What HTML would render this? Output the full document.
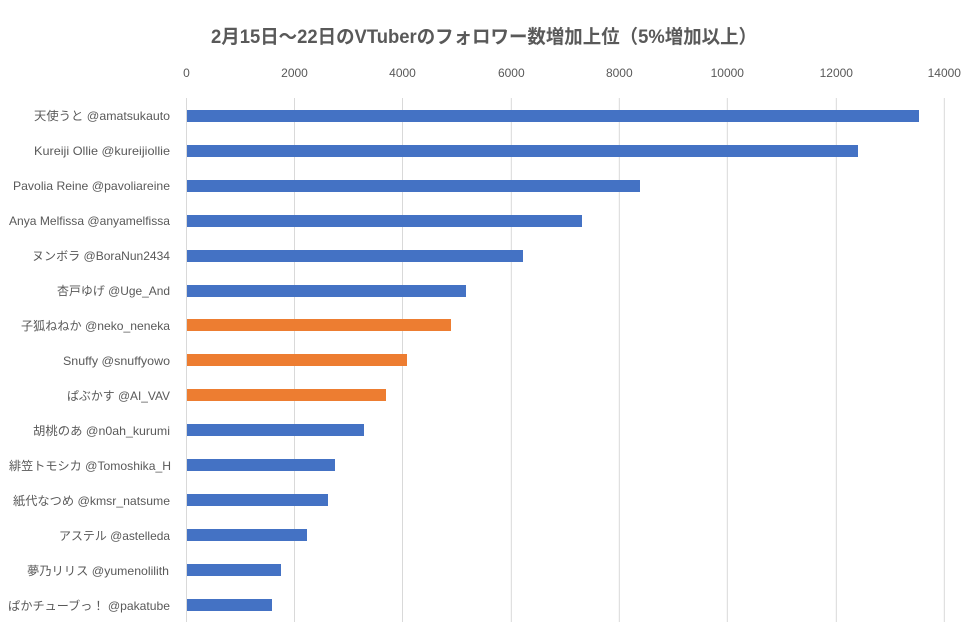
<!DOCTYPE html>
<html><head><meta charset="utf-8"><style>
html,body{margin:0;padding:0;background:#fff;}
svg{display:block;}
text{font-family:"Liberation Sans","Noto Sans CJK JP",sans-serif;fill:#595959;}
</style></head><body>
<svg width="976" height="637" viewBox="0 0 976 637" xmlns="http://www.w3.org/2000/svg">
<rect width="976" height="637" fill="#fff"/>
<text x="484" y="43" text-anchor="middle" font-size="19" font-weight="bold" textLength="546" lengthAdjust="spacingAndGlyphs">2月15日～22日のVTuberのフォロワー数増加上位（5%増加以上）</text>
<g font-size="12" text-anchor="middle">
<text x="186.5" y="77">0</text>
<text x="294.5" y="77">2000</text>
<text x="402.5" y="77">4000</text>
<text x="511.3" y="77">6000</text>
<text x="619.3" y="77">8000</text>
<text x="727.3" y="77">10000</text>
<text x="836.3" y="77">12000</text>
<text x="944.3" y="77">14000</text>
</g>
<g stroke="#d9d9d9" stroke-width="1">
<line x1="186.5" y1="98" x2="186.5" y2="622"/>
<line x1="294.5" y1="98" x2="294.5" y2="622"/>
<line x1="402.5" y1="98" x2="402.5" y2="622"/>
<line x1="511.3" y1="98" x2="511.3" y2="622"/>
<line x1="619.3" y1="98" x2="619.3" y2="622"/>
<line x1="727.3" y1="98" x2="727.3" y2="622"/>
<line x1="836.3" y1="98" x2="836.3" y2="622"/>
<line x1="944.3" y1="98" x2="944.3" y2="622"/>
</g>
<g>
<rect x="187" y="110" width="732" height="12" fill="#4472C4"/>
<rect x="187" y="145" width="671" height="12" fill="#4472C4"/>
<rect x="187" y="180" width="453" height="12" fill="#4472C4"/>
<rect x="187" y="215" width="395" height="12" fill="#4472C4"/>
<rect x="187" y="250" width="336" height="12" fill="#4472C4"/>
<rect x="187" y="285" width="279" height="12" fill="#4472C4"/>
<rect x="187" y="319" width="264" height="12" fill="#ED7D31"/>
<rect x="187" y="354" width="220" height="12" fill="#ED7D31"/>
<rect x="187" y="389" width="199" height="12" fill="#ED7D31"/>
<rect x="187" y="424" width="177" height="12" fill="#4472C4"/>
<rect x="187" y="459" width="148" height="12" fill="#4472C4"/>
<rect x="187" y="494" width="141" height="12" fill="#4472C4"/>
<rect x="187" y="529" width="120" height="12" fill="#4472C4"/>
<rect x="187" y="564" width="94" height="12" fill="#4472C4"/>
<rect x="187" y="599" width="85" height="12" fill="#4472C4"/>
</g>
<g font-size="12" text-anchor="end">
<text x="170" y="120" textLength="136" lengthAdjust="spacingAndGlyphs">天使うと @amatsukauto</text>
<text x="170" y="155" textLength="136" lengthAdjust="spacingAndGlyphs">Kureiji Ollie @kureijiollie</text>
<text x="170" y="190" textLength="157" lengthAdjust="spacingAndGlyphs">Pavolia Reine @pavoliareine</text>
<text x="170" y="225" textLength="161" lengthAdjust="spacingAndGlyphs">Anya Melfissa @anyamelfissa</text>
<text x="170" y="260" textLength="138" lengthAdjust="spacingAndGlyphs">ヌンボラ @BoraNun2434</text>
<text x="170" y="295" textLength="113" lengthAdjust="spacingAndGlyphs">杏戸ゆげ @Uge_And</text>
<text x="170" y="330" textLength="149" lengthAdjust="spacingAndGlyphs">子狐ねねか @neko_neneka</text>
<text x="170" y="365" textLength="107" lengthAdjust="spacingAndGlyphs">Snuffy @snuffyowo</text>
<text x="170" y="400" textLength="103" lengthAdjust="spacingAndGlyphs">ぱぶかす @AI_VAV</text>
<text x="170" y="435" textLength="137" lengthAdjust="spacingAndGlyphs">胡桃のあ @n0ah_kurumi</text>
<text x="171" y="470" textLength="162" lengthAdjust="spacingAndGlyphs">緋笠トモシカ @Tomoshika_H</text>
<text x="170" y="505" textLength="157" lengthAdjust="spacingAndGlyphs">紙代なつめ @kmsr_natsume</text>
<text x="170" y="540" textLength="111" lengthAdjust="spacingAndGlyphs">アステル @astelleda</text>
<text x="169" y="575" textLength="142" lengthAdjust="spacingAndGlyphs">夢乃リリス @yumenolilith</text>
<text x="170" y="610" textLength="162" lengthAdjust="spacingAndGlyphs">ぱかチューブっ！ @pakatube</text>
</g>
</svg>
</body></html>
